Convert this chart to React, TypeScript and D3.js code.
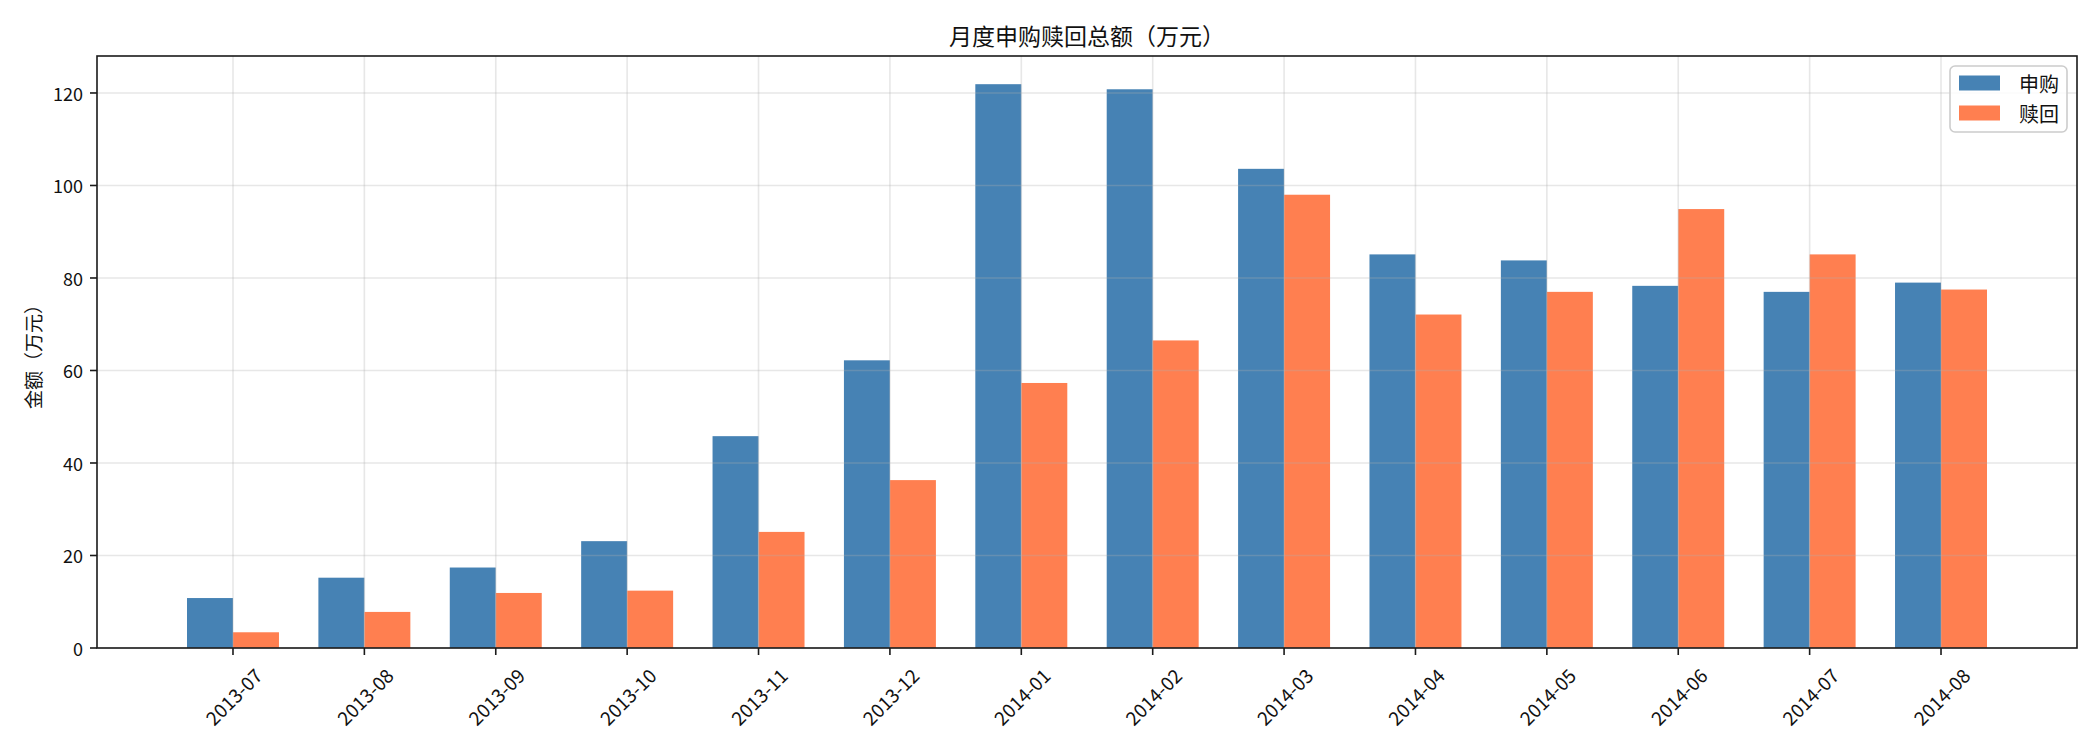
import { useRef, useEffect } from "react";
import * as d3 from "d3";

const MONTHS = [
  "2013-07", "2013-08", "2013-09", "2013-10", "2013-11", "2013-12",
  "2014-01", "2014-02", "2014-03", "2014-04", "2014-05", "2014-06",
  "2014-07", "2014-08",
];
const PURCHASE = [10.8, 15.2, 17.4, 23.1, 45.8, 62.2, 121.9, 120.8, 103.6, 85.1, 83.8, 78.3, 77.0, 79.0];
const REDEEM = [3.4, 7.8, 11.9, 12.4, 25.1, 36.3, 57.3, 66.5, 98.0, 72.1, 77.0, 94.9, 85.1, 77.5];
const SERIES = ["申购", "赎回"];
const COLORS = ["#4682B4", "#FF7F50"];
const Y_TICKS = [0, 20, 40, 60, 80, 100, 120];

const W = 2100;
const H = 750;
const FONT = "'Noto Sans CJK SC', 'Noto Sans', sans-serif";

export default function App() {
  const svgRef = useRef<SVGSVGElement>(null);

  useEffect(() => {
    if (!svgRef.current) return;
    const svg = d3.select(svgRef.current);
    svg.selectAll("*").remove();

    const left = 97;
    const right = 2077;
    const top = 56;
    const bottom = 648;

    const values = [PURCHASE, REDEEM];
    const ymax = (d3.max([...PURCHASE, ...REDEEM]) || 0) * 1.05;

    const x = d3.scalePoint<string>().domain(MONTHS).range([left, right]).padding(1.035);
    const step = x.step();
    const barW = 0.35 * step;
    const xs = d3.scaleBand<string>().domain(SERIES).range([-barW, barW]);
    const y = d3.scaleLinear().domain([0, ymax]).range([bottom, top]);

    svg.append("rect").attr("width", W).attr("height", H).attr("fill", "#fff");

    // Bars
    SERIES.forEach((s, si) => {
      svg
        .append("g")
        .selectAll("rect")
        .data(values[si])
        .enter()
        .append("rect")
        .attr("x", (_, i) => (x(MONTHS[i]) as number) + (xs(s) as number))
        .attr("y", (d) => y(d))
        .attr("width", xs.bandwidth())
        .attr("height", (d) => y(0) - y(d))
        .attr("fill", COLORS[si]);
    });

    // Grid (drawn above bars, semi-transparent)
    const grid = svg.append("g").attr("stroke", "#b0b0b0").attr("stroke-opacity", 0.3).attr("stroke-width", 1.6);
    Y_TICKS.forEach((t) => {
      grid.append("line").attr("x1", left).attr("x2", right).attr("y1", y(t)).attr("y2", y(t));
    });
    MONTHS.forEach((m) => {
      grid.append("line").attr("x1", x(m) as number).attr("x2", x(m) as number).attr("y1", top).attr("y2", bottom);
    });

    // Frame
    svg
      .append("rect")
      .attr("x", left)
      .attr("y", top)
      .attr("width", right - left)
      .attr("height", bottom - top)
      .attr("fill", "none")
      .attr("stroke", "#1a1a1a")
      .attr("stroke-width", 1.6);

    // Y axis ticks
    const yt = svg.append("g");
    Y_TICKS.forEach((t) => {
      yt.append("line").attr("x1", left - 7).attr("x2", left).attr("y1", y(t)).attr("y2", y(t)).attr("stroke", "#1a1a1a").attr("stroke-width", 1.6);
      yt.append("text")
        .attr("x", left - 14)
        .attr("y", y(t))
        .attr("text-anchor", "end")
        .attr("dominant-baseline", "central")
        .attr("font-family", FONT)
        .attr("font-size", 18)
        .attr("fill", "#111")
        .text(t);
    });

    // X axis ticks
    const xt = svg.append("g");
    MONTHS.forEach((m) => {
      const px = x(m) as number;
      xt.append("line").attr("x1", px).attr("x2", px).attr("y1", bottom).attr("y2", bottom + 7).attr("stroke", "#1a1a1a").attr("stroke-width", 1.6);
      xt.append("text")
        .attr("transform", `translate(${px},${bottom + 48}) rotate(-45)`)
        .attr("text-anchor", "middle")
        .attr("dominant-baseline", "central")
        .attr("font-family", FONT)
        .attr("font-size", 19)
        .attr("fill", "#111")
        .text(m);
    });

    // Title
    svg
      .append("text")
      .attr("x", (left + right) / 2)
      .attr("y", 35)
      .attr("text-anchor", "middle")
      .attr("dominant-baseline", "central")
      .attr("font-family", FONT)
      .attr("font-size", 23)
      .attr("fill", "#111")
      .text("月度申购赎回总额（万元）");

    // Y label
    svg
      .append("text")
      .attr("transform", `translate(32,${(top + bottom) / 2}) rotate(-90)`)
      .attr("text-anchor", "middle")
      .attr("dominant-baseline", "central")
      .attr("font-family", FONT)
      .attr("font-size", 19)
      .attr("fill", "#111")
      .text("金额（万元）");

    // Legend
    const lg = svg.append("g").attr("transform", `translate(${right - 127},${top + 10})`);
    lg.append("rect")
      .attr("width", 117)
      .attr("height", 66)
      .attr("rx", 5)
      .attr("fill", "#fff")
      .attr("fill-opacity", 0.8)
      .attr("stroke", "#cccccc")
      .attr("stroke-width", 1.6);
    SERIES.forEach((s, i) => {
      const ly = 17 + i * 30;
      lg.append("rect").attr("x", 9).attr("y", ly - 7.5).attr("width", 41).attr("height", 15).attr("fill", COLORS[i]);
      lg.append("text")
        .attr("x", 69)
        .attr("y", ly)
        .attr("dominant-baseline", "central")
        .attr("font-family", FONT)
        .attr("font-size", 20)
        .attr("fill", "#111")
        .text(s);
    });
  }, []);

  return (
    <div style={{ position: "absolute", left: 0, top: 0 }}>
      <svg ref={svgRef} width={W} height={H} style={{ display: "block" }} />
    </div>
  );
}
